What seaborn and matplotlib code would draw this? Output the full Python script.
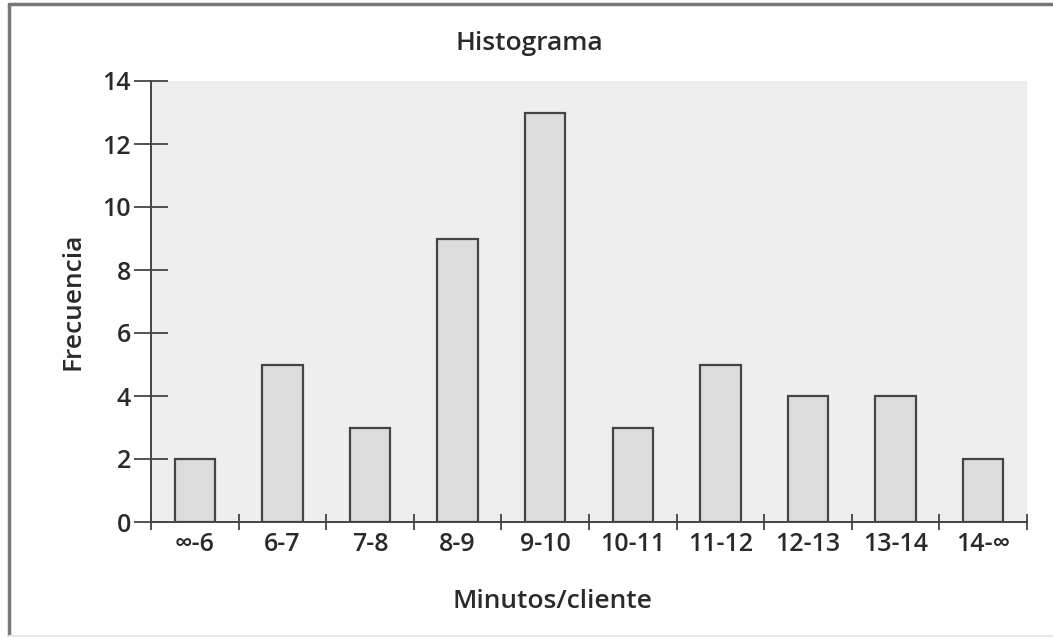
import matplotlib
matplotlib.use("Agg")
import matplotlib.pyplot as plt
import seaborn as sns
import pandas as pd
import numpy as np
from matplotlib.lines import Line2D

intervalos = ["∞-6", "6-7", "7-8", "8-9", "9-10", "10-11", "11-12", "12-13", "13-14", "14-∞"]
frecuencia = [2, 5, 3, 9, 13, 3, 5, 4, 4, 2]
yticks = [0, 2, 4, 6, 8, 10, 12, 14]

sns.set_style("white")
plt.rcParams["font.family"] = ["Open Sans", "DejaVu Sans"]
plt.rcParams["font.weight"] = 600
plt.rcParams["axes.labelweight"] = 600
plt.rcParams["text.color"] = "#2a2a2a"
plt.rcParams["axes.labelcolor"] = "#2a2a2a"

data = pd.DataFrame({"intervalo": intervalos, "frecuencia": frecuencia})

fig = plt.figure(figsize=(10.53, 6.37), dpi=100)
ax = fig.add_axes([151 / 1053, 1 - 522 / 637, 876 / 1053, 441 / 637])
ax.set_facecolor("#eeeeee")

sns.barplot(data=data, x="intervalo", y="frecuencia", color="#dcdcdc",
            saturation=1, width=0.46, edgecolor="#444444", linewidth=1.6, ax=ax)

ax.set_xlim(-0.5, len(intervalos) - 0.5)
ax.set_ylim(0, 14)
ax.set_yticks(yticks)
ax.set_xticks(np.arange(len(intervalos) + 1) - 0.5, minor=True)

for s in ["top", "right"]:
    ax.spines[s].set_visible(False)
for s in ["left", "bottom"]:
    ax.spines[s].set_color("#444444")
    ax.spines[s].set_linewidth(1.4)

ax.tick_params(axis="y", which="major", direction="inout", length=25, width=1.3,
               color="#444444", labelsize=18, pad=2, labelcolor="#2a2a2a", left=True)
ax.tick_params(axis="x", which="major", length=0, labelsize=18, pad=7, labelcolor="#2a2a2a")
ax.tick_params(axis="x", which="minor", direction="inout", length=12, width=1.3,
               color="#444444", bottom=True)

ax.set_xlabel("")
ax.set_ylabel("Frecuencia", fontsize=19, labelpad=12, fontweight=600)
fig.text(552 / 1053, 1 - 601 / 637, "Minutos/cliente", fontsize=19, ha="center", va="center")
fig.text(529 / 1053, 1 - 44 / 637, "Histograma", fontsize=19, ha="center", va="center")

# marco de la figura
fig.add_artist(Line2D([9 / 1053, 9 / 1053], [1 - 4 / 637, 1 / 637], transform=fig.transFigure,
                      color="#777777", linewidth=2.5))
fig.add_artist(Line2D([9 / 1053, 1], [1 - 4 / 637, 1 - 4 / 637], transform=fig.transFigure,
                      color="#777777", linewidth=2.5))
fig.add_artist(Line2D([9 / 1053, 1], [1 / 637, 1 / 637], transform=fig.transFigure,
                      color="#e6e6e6", linewidth=1.5))

fig.savefig("out.png", dpi=100)
